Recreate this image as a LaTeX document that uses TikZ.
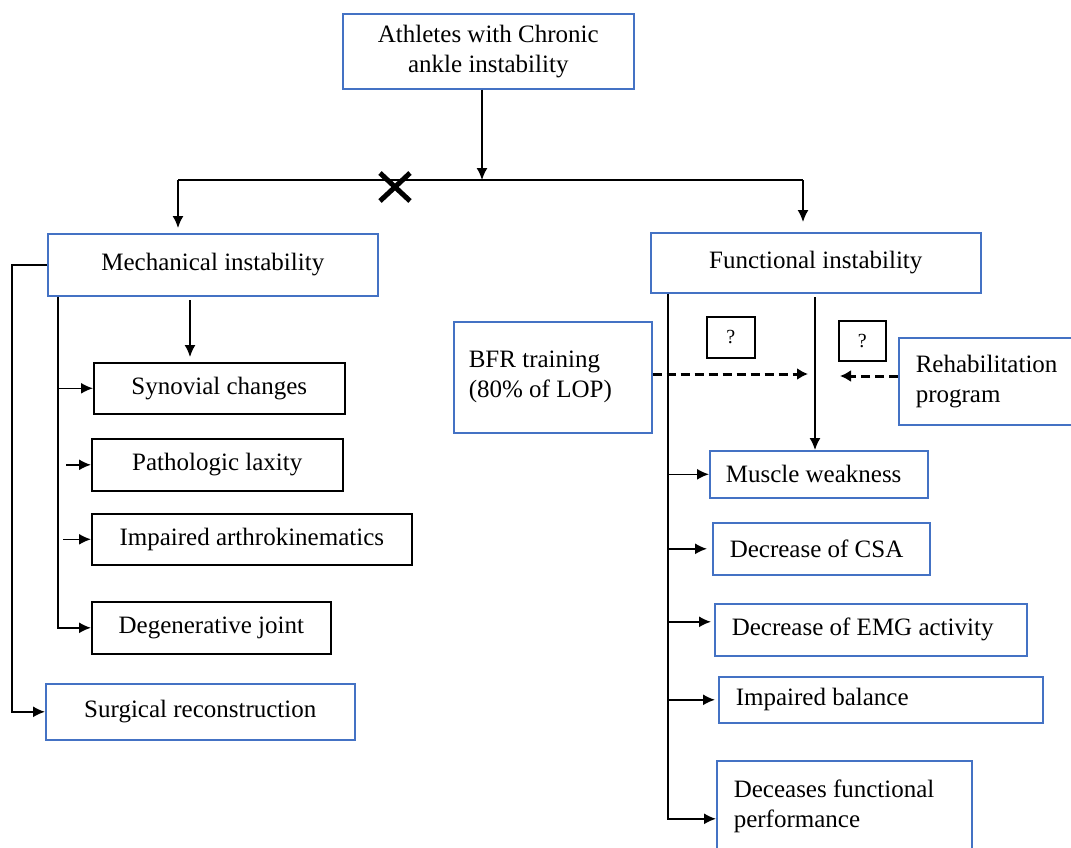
\documentclass[tikz,border=0pt]{standalone}
\usepackage{fontspec}
\setmainfont{Liberation Serif}
\usetikzlibrary{arrows.meta}
\definecolor{boxblue}{RGB}{68,114,196}
\begin{document}
\begin{tikzpicture}[x=1pt,y=-1pt,
  font=\fontsize{25}{30}\selectfont,
  box/.style={line width=1.6pt, inner sep=0pt, anchor=north west, align=center},
  bbox/.style={box, draw=boxblue},
  kbox/.style={box, draw=black},
  lbox/.style={bbox, align=flush left, inner xsep=17pt, text width=#1},
  qbox/.style={kbox, font=\fontsize{20}{22}\selectfont},
  arr/.style={line width=1.6pt, -{Latex[length=12pt,width=11pt]}},
  dasharr/.style={line width=3pt, dash pattern=on 9pt off 5pt, -{Latex[length=11pt,width=12pt]}},
  conn/.style={line width=1.6pt}]
\fill[white] (0,0) rectangle (1071,847);
\useasboundingbox (0,0) rectangle (1071,847);

% nodes
\node[bbox, minimum width=291pt, minimum height=75pt] (top) at (342,13) {Athletes with Chronic\\ankle instability};
\node[bbox, minimum width=330pt, minimum height=62pt] (mech) at (47,233) {\raisebox{6pt}{Mechanical instability}};
\node[bbox, minimum width=330pt, minimum height=60pt] (func) at (650,232) {\raisebox{6pt}{Functional instability}};
\node[bbox, minimum width=309pt, minimum height=56pt] (surg) at (45,683) {Surgical reconstruction};
\node[kbox, minimum width=251pt, minimum height=51pt] (syn) at (93,362) {Synovial changes};
\node[kbox, minimum width=251pt, minimum height=52pt] (path) at (91,438) {Pathologic laxity};
\node[kbox, minimum width=320pt, minimum height=51pt] (arth) at (91,513) {Impaired arthrokinematics};
\node[kbox, minimum width=239pt, minimum height=52pt] (degen) at (91,601) {Degenerative joint};
\node[lbox=168pt, inner xsep=15pt, minimum height=111pt] (bfr) at (453,321) {BFR training\\(80\% of LOP)};
\node[lbox=150pt, minimum height=87pt] (rehab) at (898,337) {Rehabilitation\\program};
\node[qbox, minimum width=48pt, minimum height=41pt] (q1) at (706,316) {?};
\node[qbox, minimum width=47pt, minimum height=40pt] (q2) at (838,320) {?};
\node[lbox=186pt, inner xsep=16pt, minimum height=47pt] (mw) at (709,450) {Muscle weakness};
\node[lbox=183pt, minimum height=52pt] (csa) at (712,522) {Decrease of CSA};
\node[lbox=278pt, minimum height=52pt] (emg) at (714,603) {Decrease of EMG activity};
\node[lbox=290pt, minimum height=46pt] (bal) at (718,676) {Impaired balance};
\node[lbox=221pt, minimum height=92pt] (dfp) at (716,760) {Deceases functional\\performance};

% top split
\coordinate (j) at (482,180);
\coordinate (hl) at (178,180);
\coordinate (hr) at (803,180);
\draw[arr] (top.south -| j) -- (j);
\draw[conn] (hl) -- (hr);
\draw[arr, shorten >=5pt] (hl) -- (hl |- mech.north);
\draw[arr, shorten >=10pt] (hr) -- (hr |- func.north);
\coordinate (xm) at (395,187);
\draw[line width=5pt] ([shift={(-15,-14)}]xm) -- ([shift={(15,14)}]xm);
\draw[line width=5pt] ([shift={(-15,14)}]xm) -- ([shift={(15,-14)}]xm);

% mechanical branch
\draw[arr] (mech.west) -- ++(-35,0) |- (surg.west);
\coordinate (ml) at ([xshift=11pt]mech.south west);
\draw[arr] (ml) |- (degen.west);
\draw[arr] (ml |- syn.west) -- (syn.west);
\draw[arr] ([xshift=-25pt]path.west) -- (path.west);
\draw[arr] ([xshift=-28pt]arth.west) -- (arth.west);
\coordinate (mc) at (190,300);
\draw[arr, shorten >=5pt] (mc) -- (mc |- syn.north);

% functional branch
\coordinate (fl) at ([xshift=18pt]func.south west);
\draw[arr] (fl) |- ([yshift=-12pt]dfp.west);
\draw[arr] (fl |- mw.west) -- (mw.west);
\draw[arr, shorten >=5pt] (fl |- csa.west) -- (csa.west);
\draw[arr, shorten >=3pt] (fl |- emg.west) ++(0,-8) -- ([yshift=8pt]emg.west);
\draw[arr, shorten >=3pt] (fl |- bal.west) -- (bal.west);
\coordinate (fc) at (815,297);
\draw[arr] (fc) -- (fc |- mw.north);
\coordinate (da) at (808,374);
\coordinate (db) at (840,376);
\draw[dasharr] (bfr.east |- da) -- (da);
\draw[dasharr] (rehab.west |- db) -- (db);
\end{tikzpicture}
\end{document}
